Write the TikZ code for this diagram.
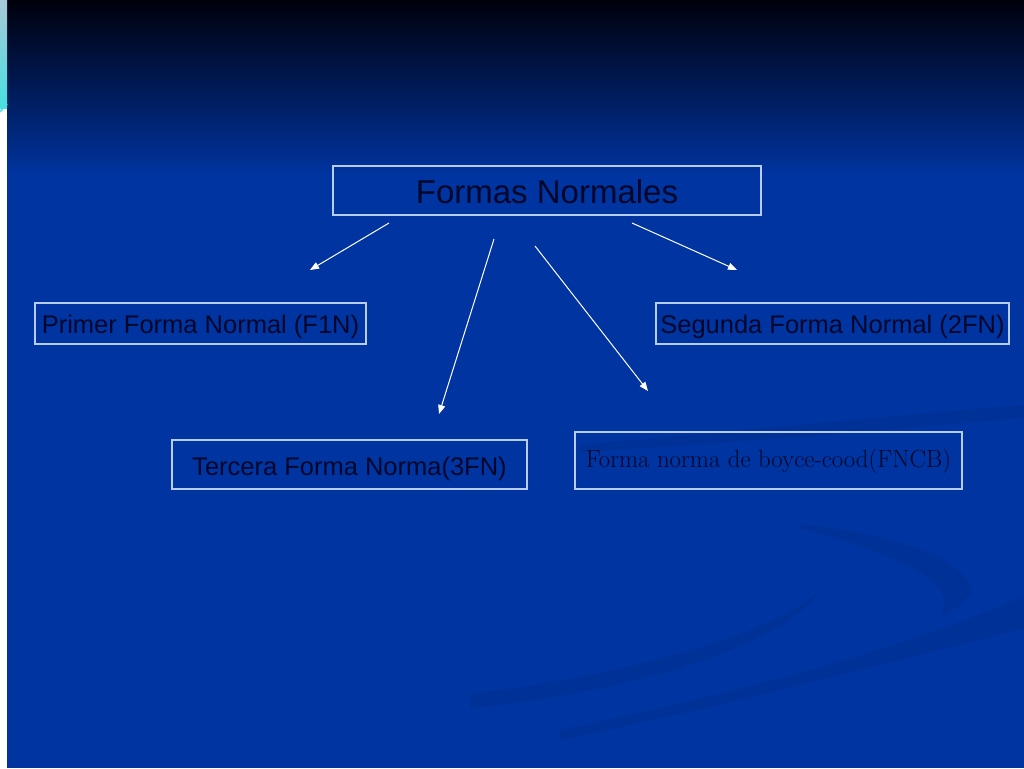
\documentclass[tikz,border=0pt]{standalone}
\usepackage{fontspec}
\setmainfont{Liberation Sans}
\newfontfamily\serifface{Latin Modern Roman}
\usetikzlibrary{arrows.meta}
\definecolor{bgblue}{HTML}{0034A0}
\definecolor{bgtop}{HTML}{00000C}
\definecolor{boxline}{HTML}{B8CCF0}
\definecolor{txt}{HTML}{00072A}
\definecolor{stripcyan}{HTML}{48E0E0}
\definecolor{striptop}{HTML}{A8C8D8}
\begin{document}
\begin{tikzpicture}[x=1pt,y=-1pt,
  box/.style={draw=boxline, line width=1.2pt, inner sep=0pt, text=txt, font=\fontsize{25.5}{28}\selectfont, text height=23pt, text depth=3pt},
  conn/.style={draw=white, line width=1pt, -{Triangle[length=9pt,width=7pt]}},
  swoosh/.style={fill=black, fill opacity=0.05, draw=none}]
\useasboundingbox (0,0) rectangle (1024,768);
% background
\fill[bgblue] (0,0) rectangle (1024,768);
\shade[top color=bgtop, bottom color=bgblue] (0,0) rectangle (1024,175);
% faint swooshes
\fill[swoosh] (470,708) .. controls (650,690) and (790,640) .. (822,588) .. controls (785,628) and (650,672) .. (470,694) -- cycle;
\fill[swoosh] (800,524) .. controls (900,535) and (965,560) .. (972,590) .. controls (970,600) and (955,610) .. (940,616) .. controls (955,595) and (940,565) .. (800,528) -- cycle;
\fill[swoosh] (560,730) .. controls (750,690) and (900,650) .. (1024,596) -- (1024,628) .. controls (900,660) and (750,700) .. (560,740) -- cycle;
\fill[swoosh] (580,445) .. controls (750,430) and (900,415) .. (1024,405) -- (1024,418) .. controls (900,428) and (750,442) .. (580,452) -- cycle;
% left strip
\fill[white] (0,105) rectangle (7,768);
\shade[top color=striptop, bottom color=stripcyan] (0,0) rectangle (7,108);
\draw[stripcyan, line width=1.5pt] (0,112) -- (7,104);
% nodes
\node[box, minimum width=428pt, minimum height=49pt, font=\fontsize{33}{36}\selectfont, text height=30pt, text depth=5pt] (fn) at (547,190.5) {Formas Normales};
\node[box, minimum width=331pt, minimum height=41pt] (f1) at (200.5,323.5) {Primer Forma Normal (F1N)};
\node[box, minimum width=353pt, minimum height=41pt] (f2) at (832.5,323.5) {Segunda Forma Normal (2FN)};
\node[box, minimum width=355pt, minimum height=49pt, text height=24pt] (f3) at (349.5,464.5) {Tercera Forma Norma(3FN)};
\node[box, minimum width=387pt, minimum height=57pt, font=\serifface\fontsize{24.8}{28}\selectfont, text height=17pt, text depth=3pt] (fb) at (768.5,460.5) {Forma norma de boyce-cood(FNCB)};
% arrow endpoints
\coordinate (a1s) at (389,223); \coordinate (a1e) at (310,270);
\coordinate (a2s) at (494,239); \coordinate (a2e) at (439,414);
\coordinate (a3s) at (535,246); \coordinate (a3e) at (648,391);
\coordinate (a4s) at (632,223); \coordinate (a4e) at (737,270);
\draw[conn] (a1s) -- (a1e);
\draw[conn] (a2s) -- (a2e);
\draw[conn] (a3s) -- (a3e);
\draw[conn] (a4s) -- (a4e);
\end{tikzpicture}
\end{document}
